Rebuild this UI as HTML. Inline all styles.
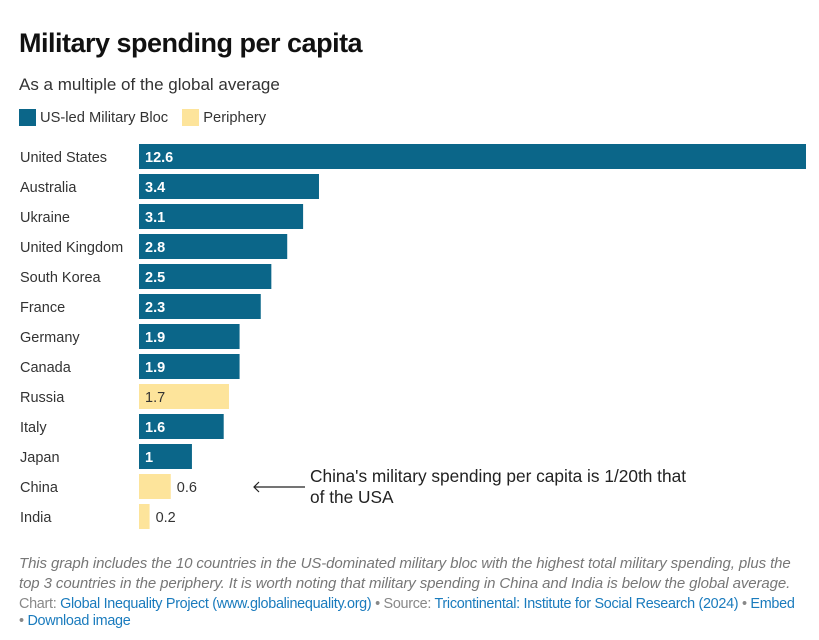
<!DOCTYPE html>
<html><head><meta charset="utf-8"><style>
body{margin:0;width:819px;height:640px;background:#fff;font-family:"Liberation Sans",Arial,sans-serif;color:#222;position:relative;overflow:hidden}
.t{position:absolute;white-space:nowrap}
</style></head><body>
<div class="t" style="left:19px;top:28px;font-size:27px;font-weight:bold;color:#111;letter-spacing:-0.5px">Military spending per capita</div>
<div class="t" style="left:19px;top:75px;font-size:17px;color:#333">As a multiple of the global average</div>
<div class="t" style="left:19px;top:109px;font-size:14.7px;color:#333">
<span><span style="display:inline-block;width:17px;height:17px;background:#0b6689;vertical-align:-4px;margin-right:4px"></span>US-led Military Bloc</span>
<span style="margin-left:10px"><span style="display:inline-block;width:17px;height:17px;background:#fde49b;vertical-align:-4px;margin-right:4px"></span>Periphery</span>
</div>
<svg id="chart" width="819" height="540" style="position:absolute;left:0;top:0"></svg>
<div class="t" style="left:310px;top:466px;font-size:17.3px;color:#222;line-height:21px">China's military spending per capita is 1/20th that<br>of the USA</div>
<div class="t" style="left:19px;top:554px;font-size:15px;font-style:italic;color:#777;line-height:20px;letter-spacing:-0.1px">This graph includes the 10 countries in the US-dominated military bloc with the highest total military spending, plus the<br>top 3 countries in the periphery. It is worth noting that military spending in China and India is below the global average.</div>
<div class="t" style="left:19px;top:596px;font-size:14.4px;color:#888;line-height:17px;letter-spacing:-0.3px">Chart: <span style="color:#1a7bbd">Global Inequality Project (www.globalinequality.org)</span> • Source: <span style="color:#1a7bbd">Tricontinental: Institute for Social Research (2024)</span> • <span style="color:#1a7bbd">Embed</span><br>• <span style="color:#1a7bbd">Download image</span></div>
<script>
const countries=["United States","Australia","Ukraine","United Kingdom","South Korea","France","Germany","Canada","Russia","Italy","Japan","China","India"];
const values=[12.6,3.4,3.1,2.8,2.5,2.3,1.9,1.9,1.7,1.6,1,0.6,0.2];
const groups=["bloc","bloc","bloc","bloc","bloc","bloc","bloc","bloc","periphery","bloc","bloc","periphery","periphery"];
const svg=document.getElementById('chart');
const NS='http://www.w3.org/2000/svg';
const x0=139,x1=806,maxV=12.6;
const xs=v=>v/maxV*(x1-x0);
const yTop=i=>144+i*30;
countries.forEach((c,i)=>{
  const y=yTop(i);
  const lab=document.createElementNS(NS,'text');
  
  
  lab.setAttribute('x',20);lab.setAttribute('y',y+18);
  lab.setAttribute('font-size','14.5');lab.setAttribute('fill','#333');
  lab.textContent=c;svg.appendChild(lab);
  const w=xs(values[i]);
  const r=document.createElementNS(NS,'rect');
  
  
  r.setAttribute('x',x0);r.setAttribute('y',y);r.setAttribute('width',w);r.setAttribute('height',25);
  r.setAttribute('fill',groups[i]==='bloc'?'#0b6689':'#fde49b');
  svg.appendChild(r);
  const t=document.createElementNS(NS,'text');
  
  
  const inside=w>45;
  t.setAttribute('x',inside?x0+6:x0+w+6);t.setAttribute('y',y+18);
  t.setAttribute('font-size','14.5');
  if(inside&&groups[i]==='bloc'){t.setAttribute('fill','#fff');t.setAttribute('font-weight','bold');}
  else t.setAttribute('fill','#333');
  t.textContent=String(values[i]);svg.appendChild(t);
});
const ln=document.createElementNS(NS,'path');


ln.setAttribute('d','M305 487 L254 487 M259 482 L254 487 L259 492');
ln.setAttribute('stroke','#222');ln.setAttribute('fill','none');ln.setAttribute('stroke-width','1.2');
svg.appendChild(ln);
</script>
</body></html>
